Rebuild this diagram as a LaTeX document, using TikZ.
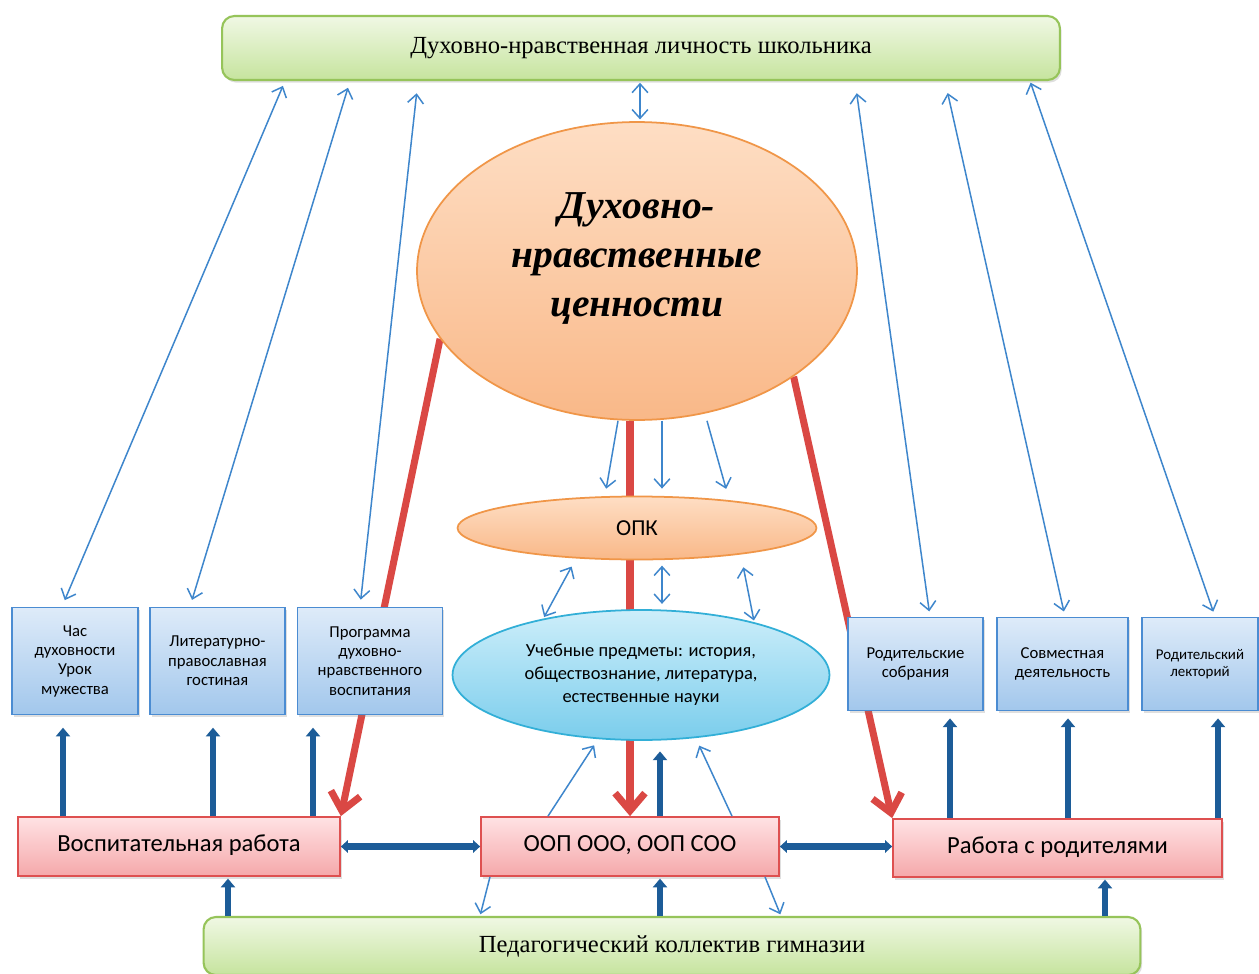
\documentclass[tikz,border=0pt]{standalone}
\usepackage{fontspec}
\setmainfont{Liberation Serif}
\newfontfamily\calibri{Carlito}
\usetikzlibrary{arrows.meta,shapes.geometric,shadows,backgrounds}

\definecolor{thinblue}{RGB}{62,134,204}
\definecolor{darkblue}{RGB}{28,92,152}
\definecolor{arrowred}{RGB}{218,72,68}
\definecolor{grtop}{RGB}{240,248,228}
\definecolor{grbot}{RGB}{198,228,158}
\definecolor{grline}{RGB}{150,196,90}
\definecolor{bltop}{RGB}{222,235,249}
\definecolor{blbot}{RGB}{162,199,236}
\definecolor{blline}{RGB}{75,140,210}
\definecolor{rdtop}{RGB}{255,226,228}
\definecolor{rdbot}{RGB}{245,168,170}
\definecolor{rdline}{RGB}{222,80,80}
\definecolor{ortop}{RGB}{254,222,196}
\definecolor{orbot}{RGB}{249,184,136}
\definecolor{orline}{RGB}{240,150,72}
\definecolor{cytop}{RGB}{205,238,250}
\definecolor{cybot}{RGB}{122,205,236}
\definecolor{cyline}{RGB}{50,175,215}

\tikzset{
  greenbox/.style={draw=grline, line width=1.2pt, rounded corners=7pt,
    top color=grtop, bottom color=grbot,
    drop shadow={shadow xshift=1pt, shadow yshift=-1.5pt, opacity=0.25},
    font=\fontsize{14}{16}\selectfont},
  bluebox/.style={draw=blline, line width=1pt, top color=bltop, bottom color=blbot,
    drop shadow={shadow xshift=1pt, shadow yshift=-1.5pt, opacity=0.25},
    align=center, inner sep=1pt, font=\calibri\fontsize{9.5}{11}\selectfont},
  redbox/.style={draw=rdline, line width=1pt, top color=rdtop, bottom color=rdbot,
    drop shadow={shadow xshift=1pt, shadow yshift=-1.5pt, opacity=0.25},
    font=\calibri\fontsize{14}{16}\selectfont},
  oval/.style={ellipse, inner sep=0pt, line width=1pt, align=center},
  linkboth/.style={draw=thinblue, line width=0.85pt,
    {Straight Barb[length=5pt,width=9pt]}-{Straight Barb[length=5pt,width=9pt]}},
  linkone/.style={draw=thinblue, line width=0.85pt, -{Straight Barb[length=5pt,width=9pt]}},
  bluethick/.style={draw=darkblue, line width=3.5pt, -{Triangle[length=5pt,width=8pt]}},
  bluetwo/.style={draw=darkblue, line width=3.5pt,
    {Triangle[length=4pt,width=7pt]}-{Triangle[length=4pt,width=7pt]}},
  redarrow/.style={draw=arrowred, line width=4pt, -{Straight Barb[length=10pt,width=17pt]}}
}

\begin{document}
\begin{tikzpicture}[x=0.02cm, y=-0.02cm]
  \path[use as bounding box] (0,0) rectangle (1259,974);

  % top and bottom
  \node[greenbox, minimum width=16.76cm, minimum height=1.28cm] (top) at (641,48)
    {Духовно-нравственная личность школьника};
  \node[greenbox, minimum width=18.74cm, minimum height=1.16cm] (bottom) at (672,946)
    {Педагогический коллектив гимназии};

  % ellipses
  \node[oval, draw=orline, top color=ortop, bottom color=orbot,
    minimum width=8.8cm, minimum height=5.96cm,
    label={[align=center, yshift=7pt, font=\bfseries\itshape\fontsize{22.5}{28}\selectfont]center:
      Духовно-\\нравственные\\ценности}] (big) at (637,271) {};
  \node[oval, draw=orline, top color=ortop, bottom color=orbot,
    minimum width=7.18cm, minimum height=1.26cm,
    font=\calibri\fontsize{13}{15}\selectfont] (opk) at (637,528) {ОПК};
  \node[oval, draw=cyline, top color=cytop, bottom color=cybot,
    minimum width=7.54cm, minimum height=2.6cm,
    font=\calibri\fontsize{10.5}{13}\selectfont] (ucheb) at (641,675)
    {Учебные предметы: история,\\обществознание, литература,\\естественные науки};

  % small boxes
  \node[bluebox, minimum width=2.52cm, minimum height=2.14cm] (box1) at (75,661)
    {Час\\духовности\\Урок\\мужества};
  \node[bluebox, minimum width=2.7cm, minimum height=2.14cm] (box2) at (217.5,661)
    {Литературно-\\православная\\гостиная};
  \node[bluebox, minimum width=2.9cm, minimum height=2.14cm] (box3) at (370,661)
    {Программа\\духовно-\\нравственного\\воспитания};
  \node[bluebox, minimum width=2.7cm, minimum height=1.86cm] (box4) at (915.5,664)
    {Родительские\\собрания};
  \node[bluebox, minimum width=2.62cm, minimum height=1.86cm] (box5) at (1062.5,664)
    {Совместная\\деятельность};
  \node[bluebox, minimum width=2.32cm, minimum height=1.86cm,
    font=\calibri\fontsize{8.5}{10}\selectfont] (box6) at (1200,664)
    {Родительский\\лекторий};

  % red boxes
  \node[redbox, minimum width=6.44cm, minimum height=1.18cm] (vosp) at (179,846.5)
    {\raisebox{4pt}{Воспитательная работа}};
  \node[redbox, minimum width=5.96cm, minimum height=1.18cm] (oop) at (630,846.5)
    {\raisebox{3pt}{ООП ООО, ООП СОО}};
  \node[redbox, minimum width=6.58cm, minimum height=1.16cm] (rab) at (1057.5,848)
    {\raisebox{3pt}{Работа с родителями}};

  % red arrows behind
  \begin{pgfonlayer}{background}
    \fill[white] (0,0) rectangle (1259,974);
    \draw[redarrow] (big.199) -- (vosp.north east);
    \draw[redarrow] (big.326) -- (rab.north west);
    \draw[redarrow] (630,0 |- big.south) -- (630,0 |- oop.north);
  \end{pgfonlayer}

  % links to the top box
  \draw[linkboth, shorten <=4pt, shorten >=3pt] (62,0 |- box1.north) -- (285,0 |- top.south);
  \draw[linkboth, shorten <=4pt, shorten >=4pt] (190,0 |- box2.north) -- (350,0 |- top.south);
  \draw[linkboth, shorten <=4pt, shorten >=7pt] (360,0 |- box3.north) -- (418,0 |- top.south);
  \draw[linkboth, shorten <=3pt, shorten >=7pt] (930,0 |- box4.north) -- (855,0 |- top.south);
  \draw[linkboth, shorten <=3pt, shorten >=7pt] (1065,0 |- box5.north) -- (945,0 |- top.south);
  \draw[linkboth, shorten <=3pt, shorten >=1pt] (1215,0 |- box6.north) -- (1030,0 |- top.south);
  \draw[linkboth, shorten <=1pt, shorten >=1pt] (640,0 |- top.south) -- (640,0 |- big.north);

  % between the ellipses
  \draw[linkone, shorten >=4pt] (618,0 |- big.south) -- (605,0 |- opk.north);
  \draw[linkone, shorten >=4pt] (662,0 |- big.south) -- (662,0 |- opk.north);
  \draw[linkone, shorten >=4pt] (707,0 |- big.south) -- (728,0 |- opk.north);
  \draw[linkboth, shorten <=4pt, shorten >=1pt] (575,0 |- opk.south) -- (ucheb.150);
  \draw[linkboth, shorten <=3pt, shorten >=3pt] (662,0 |- opk.south) -- (662,0 |- ucheb.north);
  \draw[linkboth, shorten <=4pt, shorten >=1pt] (742,0 |- opk.south) -- (ucheb.25);

  % around the middle box
  \draw[linkone, shorten >=3pt] (548,0 |- oop.north) -- (597,0 |- ucheb.south);
  \draw[linkone, shorten >=3pt] (732,0 |- oop.north) -- (697,0 |- ucheb.south);
  \draw[bluethick, shorten >=6pt] (660,0 |- oop.north) -- (660,0 |- ucheb.south);
  \draw[linkone, shorten >=1pt] (490,0 |- oop.south) -- (480,0 |- bottom.north);
  \draw[linkone, shorten >=1pt] (765,0 |- oop.south) -- (781,0 |- bottom.north);
  \draw[bluethick, shorten >=1pt] (660,0 |- bottom.north) -- (660,0 |- oop.south);

  % up to the small boxes
  \draw[bluethick, shorten >=7pt] (63,0 |- vosp.north) -- (63,0 |- box1.south);
  \draw[bluethick, shorten >=7pt] (213,0 |- vosp.north) -- (213,0 |- box2.south);
  \draw[bluethick, shorten >=7pt] (313,0 |- vosp.north) -- (313,0 |- box3.south);
  \draw[bluethick, shorten >=4pt] (950,0 |- rab.north) -- (950,0 |- box4.south);
  \draw[bluethick, shorten >=4pt] (1068,0 |- rab.north) -- (1068,0 |- box5.south);
  \draw[bluethick, shorten >=4pt] (1218,0 |- rab.north) -- (1218,0 |- box6.south);

  % between the red boxes and from the bottom box
  \draw[bluetwo] (vosp.east) -- (oop.west);
  \draw[bluetwo] (oop.east) -- (oop.east -| rab.west);
  \draw[bluethick, shorten >=1pt] (228,0 |- bottom.north) -- (228,0 |- vosp.south);
  \draw[bluethick, shorten >=1pt] (1105,0 |- bottom.north) -- (1105,0 |- rab.south);
\end{tikzpicture}
\end{document}
